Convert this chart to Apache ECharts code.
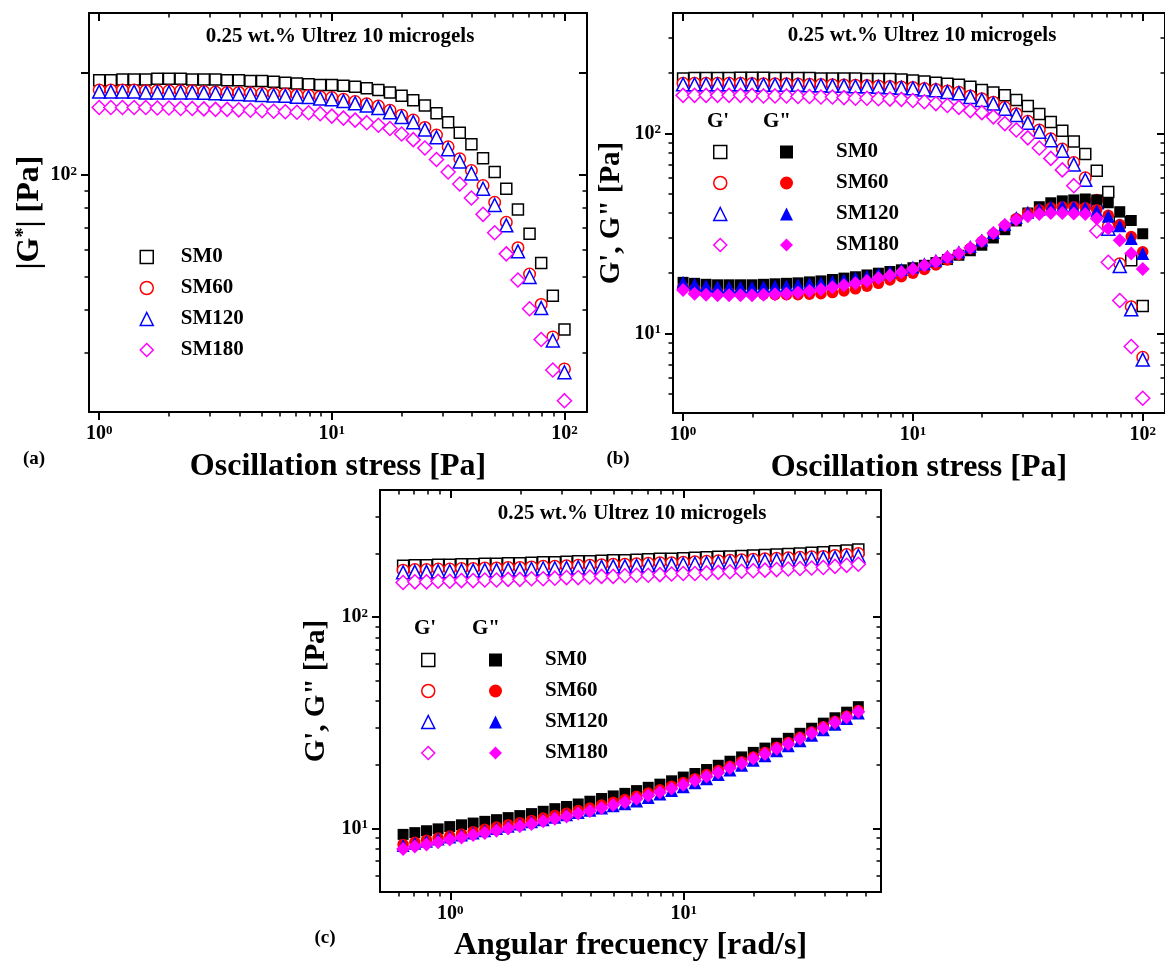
<!DOCTYPE html>
<html>
<head>
<meta charset="utf-8">
<title>Ultrez 10 microgels - rheology</title>
<script src="https://cdn.jsdelivr.net/npm/echarts@6.0.0/dist/echarts.min.js"></script>
<style>
  html, body { margin: 0; padding: 0; background: #fff; }
  #main { width: 1165px; height: 963px; }
</style>
</head>
<body>
<div id="main"></div>
<script>
var FONT = '"Liberation Serif", "Times New Roman", serif';
var BLACK = '#000000', RED = '#ff0000', BLUE = '#0000ff', MAGENTA = '#ff00ff';

// oscillation stress [Pa], panels (a) and (b)
var stress = [1, 1.122, 1.259, 1.413, 1.585, 1.778, 1.995, 2.239, 2.512, 2.818,
  3.162, 3.548, 3.981, 4.467, 5.012, 5.623, 6.31, 7.079, 7.943, 8.913,
  10, 11.22, 12.59, 14.13, 15.85, 17.78, 19.95, 22.39, 25.12, 28.18,
  31.62, 35.48, 39.81, 44.67, 50.12, 56.23, 63.1, 70.79, 79.43, 89.13, 100];

// angular frequency [rad/s], panel (c)
var freq = [0.628, 0.705, 0.791, 0.887, 0.995, 1.117, 1.253, 1.406, 1.578, 1.770,
  1.986, 2.228, 2.500, 2.805, 3.148, 3.532, 3.963, 4.446, 4.988, 5.597,
  6.280, 7.046, 7.906, 8.871, 9.953, 11.17, 12.53, 14.06, 15.78, 17.70,
  19.86, 22.28, 25.00, 28.05, 31.48, 35.32, 39.63, 44.46, 49.88, 55.97];

// (a) |G*| [Pa]
var gStarSM0 = [190, 190, 191, 191, 191, 192, 192, 192, 191, 191, 191, 190, 190, 189, 189, 188, 187, 186, 185, 184,
  184, 183, 182, 180, 178, 175, 171, 166, 160, 152, 143, 133, 123, 112, 102, 91, 79, 67, 55, 44, 35];
var gStarSM60 = [178, 178, 178, 178, 177, 177, 177, 177, 177, 176, 175.5, 175, 175, 174.5, 174, 173.5, 173, 172, 171.5, 170,
  169, 167, 164.5, 162, 159.5, 155, 150, 145, 138, 131, 121, 111.5, 103, 93, 83, 72.5, 61, 51, 41.5, 33.3, 26.8];
var gStarSM120 = [176, 176, 176, 176, 175, 175, 175, 175, 175, 174.5, 174, 173.5, 173, 172.5, 172, 171.5, 171, 170, 169.5, 168,
  167, 165, 162.5, 160, 157.5, 153, 148, 143, 136, 129, 119, 109.5, 101, 91, 81.5, 71, 59.5, 50, 40.5, 32.5, 26.2];
var gStarSM180 = [158, 158, 158, 158, 158, 157.5, 157.5, 157, 157, 156.5, 156, 156, 155.5, 155, 154.5, 154, 153.5, 153, 152.5, 151.5,
  149, 147, 145, 142.5, 140, 137, 132, 127, 120, 111, 102, 94, 85.5, 76.5, 67.5, 58.5, 49, 40.3, 32.7, 26.6, 21.6];

// (b) G' [Pa]
var gpSM0 = [188, 189, 189, 189, 189, 190, 190, 190, 189, 189, 189, 189, 188, 188, 188, 188, 187, 187, 187, 186,
  184, 182, 179, 177, 175, 171, 165, 160, 155, 147, 137, 125, 114, 103, 91, 79, 65, 51, 36, 23.2, 13.7];
var gpSM60 = [178, 178, 178, 178, 178, 178, 177.5, 177, 177, 177, 176.5, 176, 175.5, 175, 174.5, 174, 173.5, 172.5, 171.5, 170.5,
  169.5, 167.5, 166, 163, 160.5, 154, 149, 143, 135, 125.5, 115, 104, 94, 83.5, 71.5, 60, 46.3, 34.2, 22.3, 13.6, 7.6];
var gpSM120 = [176, 176, 176, 176, 176, 176, 176, 175, 175, 175, 175, 174, 174, 173, 173, 172, 172, 171, 170, 169,
  168, 166, 164.5, 161, 159, 152, 147, 141, 133, 123.5, 113, 102, 92.5, 82, 70, 58.6, 45.3, 33.4, 21.7, 13.2, 7.4];
var gpSM180 = [155, 155, 155, 155, 155, 155, 155, 154, 154, 154, 153, 153, 152, 152, 151, 150, 150, 149, 148.5, 148,
  146, 144, 141, 138, 135, 130, 127, 121, 112, 104, 95, 84.5, 75, 65.7, 54.8, 44.8, 32.5, 22.7, 14.6, 8.6, 4.74];

// (b) G'' [Pa]
var gppSM0 = [18.0, 17.8, 17.6, 17.5, 17.5, 17.5, 17.5, 17.6, 17.7, 17.8, 17.9, 18.1, 18.3, 18.6, 18.9, 19.2, 19.6, 20.0, 20.4, 20.8,
  21.3, 21.9, 22.6, 23.4, 24.6, 25.9, 27.6, 30.0, 33.0, 36.5, 40.0, 43.0, 45.0, 46.0, 46.5, 47.0, 46.5, 45.0, 40.6, 36.7, 31.5];
var gppSM60 = [17.0, 16.6, 16.3, 16.1, 16.0, 15.9, 15.8, 15.7, 15.6, 15.6, 15.6, 15.7, 15.8, 16.0, 16.3, 16.7, 17.2, 17.8, 18.5, 19.2,
  20.0, 20.9, 22.0, 23.3, 24.8, 26.6, 28.8, 31.5, 34.5, 37.5, 40.0, 41.5, 42.5, 43.0, 43.0, 42.5, 41.5, 39.0, 35.0, 30.5, 25.6];
var gppSM120 = [18.0, 17.6, 17.3, 17.1, 17.0, 17.0, 17.0, 17.1, 17.2, 17.3, 17.5, 17.7, 17.9, 18.2, 18.5, 18.9, 19.3, 19.8, 20.3, 20.9,
  21.5, 22.3, 23.2, 24.3, 25.6, 27.2, 29.3, 32.0, 35.0, 38.0, 40.3, 41.8, 42.8, 43.2, 43.0, 42.5, 41.0, 38.5, 34.5, 29.8, 25.1];
var gppSM180 = [16.5, 15.8, 15.6, 15.5, 15.5, 15.5, 15.5, 15.6, 15.7, 15.8, 16.0, 16.3, 16.6, 17.0, 17.4, 17.8, 18.3, 18.9, 19.5, 20.2,
  21.0, 21.9, 22.8, 24.0, 25.2, 26.8, 29.0, 31.8, 34.8, 37.0, 38.5, 39.5, 40.0, 40.0, 39.8, 39.5, 37.5, 33.5, 29.2, 25.1, 21.0];

// (c) G' [Pa] vs frequency
var fgpSM0 = [175, 176, 176, 177, 177, 178, 178, 179, 179, 180, 180, 181, 182, 182, 183, 184, 184, 185, 186, 186,
  187, 188, 189, 189, 190, 191, 192, 193, 194, 195, 196, 197, 198, 199, 200, 202, 203, 205, 207, 209];
var fgpSM60 = [167, 168, 168, 169, 169, 170, 170, 171, 171, 172, 172, 173, 174, 174, 175, 176, 176, 177, 178, 178,
  179, 180, 181, 181, 182, 183, 184, 185, 186, 187, 188, 189, 190, 191, 192, 193, 194, 196, 198, 200];
var fgpSM120 = [163, 164, 164, 165, 165, 166, 166, 167, 167, 168, 168, 169, 170, 170, 171, 172, 172, 173, 174, 174,
  175, 176, 177, 177, 178, 179, 180, 181, 182, 183, 184, 185, 186, 187, 188, 189, 190, 191, 193, 195];
var fgpSM180 = [146, 147, 147, 148, 148, 149, 149, 150, 150, 151, 151, 152, 152, 153, 154, 154, 155, 156, 156, 157,
  158, 158, 159, 160, 161, 161, 162, 163, 164, 165, 166, 167, 168, 169, 170, 171, 172, 174, 176, 178];

// (c) G'' [Pa] vs frequency
var fgppSM0 = [9.37, 9.55, 9.75, 9.95, 10.2, 10.4, 10.6, 10.8, 11.0, 11.25, 11.5, 11.75, 12.05, 12.4, 12.7, 13.05, 13.45, 13.85, 14.25, 14.65,
  15.1, 15.65, 16.2, 16.8, 17.5, 18.2, 19.0, 19.9, 20.8, 21.8, 22.9, 24.0, 25.3, 26.7, 28.2, 29.8, 31.5, 33.4, 35.5, 37.7];
var fgppSM60 = [8.4, 8.6, 8.8, 9.0, 9.2, 9.4, 9.65, 9.9, 10.15, 10.4, 10.65, 10.9, 11.2, 11.5, 11.8, 12.15, 12.5, 12.9, 13.3, 13.7,
  14.2, 14.7, 15.25, 15.85, 16.5, 17.2, 18.0, 18.8, 19.7, 20.7, 21.8, 22.9, 24.2, 25.5, 27.0, 28.6, 30.3, 32.1, 34.0, 36.2];
var fgppSM120 = [8.3, 8.5, 8.7, 8.9, 9.1, 9.3, 9.5, 9.75, 10.0, 10.25, 10.5, 10.75, 11.0, 11.3, 11.6, 11.9, 12.2, 12.5, 12.8, 13.1,
  13.5, 14.0, 14.55, 15.1, 15.75, 16.45, 17.2, 18.0, 18.9, 19.9, 21.0, 22.1, 23.3, 24.6, 26.0, 27.6, 29.3, 31.1, 33.1, 35.2];
var fgppSM180 = [8.0, 8.2, 8.4, 8.6, 8.85, 9.05, 9.3, 9.5, 9.75, 10.0, 10.25, 10.5, 10.8, 11.1, 11.4, 11.75, 12.1, 12.5, 12.9, 13.3,
  13.8, 14.3, 14.85, 15.45, 16.1, 16.8, 17.6, 18.4, 19.3, 20.3, 21.4, 22.5, 23.8, 25.1, 26.6, 28.2, 29.9, 31.7, 33.6, 35.7];

// tick values
var xMajorAB = [1, 10, 100];
var xMinorAB = [2, 3, 4, 5, 6, 7, 8, 9, 20, 30, 40, 50, 60, 70, 80, 90];
var xMajorC = [1, 10];
var xMinorC = [0.6, 0.7, 0.8, 0.9, 2, 3, 4, 5, 6, 7, 8, 9, 20, 30, 40, 50, 60];
var yMajorA = [100, 200];
var yLabelA = [100];
var yMinorA = [30, 40, 50, 60, 70, 80, 90];
var yMajorB = [10, 100];
var yMinorB = [5, 6, 7, 8, 9, 20, 30, 40, 50, 60, 70, 80, 90, 200, 300];
var yMajorC = [10, 100];
var yMinorC = [6, 7, 8, 9, 20, 30, 40, 50, 60, 70, 80, 90, 200, 300];

var supStyle = { fontSize: 13, fontWeight: 'bold', fontFamily: FONT, color: BLACK, verticalAlign: 'top', padding: [0, 0, 4, 0] };

function powLabel(v) {
  return '10{s|' + Math.round(Math.log(v) / Math.LN10) + '}';
}

function axisGroup(dim, grid, min, max, major, minor, labels, name, nameGap, nameSize) {
  var isX = dim === 'x';
  var common = { gridIndex: grid, type: 'log', logBase: 10, min: min, max: max, splitLine: { show: false }, silent: true };
  var line = { show: true, onZero: false, lineStyle: { color: BLACK, width: 2 } };
  var main = Object.assign({}, common, {
    position: isX ? 'bottom' : 'left',
    axisLine: line,
    axisTick: { show: true, inside: false, length: 8, customValues: major, lineStyle: { color: BLACK, width: 2 } },
    axisLabel: {
      show: true, customValues: labels, margin: 12, formatter: powLabel,
      color: BLACK, fontFamily: FONT, fontWeight: 'bold', fontSize: 20, rich: { s: supStyle }
    },
    name: name, nameLocation: 'middle', nameGap: nameGap, nameRotate: isX ? 0 : 90,
    nameTextStyle: {
      color: BLACK, fontFamily: FONT, fontWeight: 'bold', fontSize: nameSize,
      rich: { s: { fontSize: Math.round(nameSize * 0.62), fontWeight: 'bold', fontFamily: FONT, color: BLACK, verticalAlign: 'top' } }
    }
  });
  var mainMinor = Object.assign({}, common, {
    position: isX ? 'bottom' : 'left',
    axisLine: { show: false },
    axisTick: { show: true, inside: false, length: 4.5, customValues: minor, lineStyle: { color: BLACK, width: 1.5 } },
    axisLabel: { show: false }
  });
  var mirror = Object.assign({}, common, {
    position: isX ? 'top' : 'right',
    axisLine: line,
    axisTick: { show: true, inside: true, length: 8, customValues: major, lineStyle: { color: BLACK, width: 2 } },
    axisLabel: { show: false }
  });
  var mirrorMinor = Object.assign({}, common, {
    position: isX ? 'top' : 'right',
    axisLine: { show: false },
    axisTick: { show: true, inside: true, length: 4.5, customValues: minor, lineStyle: { color: BLACK, width: 1.5 } },
    axisLabel: { show: false }
  });
  return [main, mainMinor, mirror, mirrorMinor];
}

function scatter(name, axis, xs, ys, symbol, size, color, filled) {
  return {
    type: 'scatter', name: name, xAxisIndex: axis, yAxisIndex: axis,
    data: xs.map(function (x, i) { return [x, ys[i]]; }),
    symbol: symbol, symbolSize: size,
    itemStyle: filled ? { color: color, opacity: 1 } : { color: '#ffffff', borderColor: color, borderWidth: 1.5, opacity: 1 },
    emphasis: { disabled: true }
  };
}

// icon box stays square; the gap to the text is made with text padding
var ICON = 13;
function legendBlock(names, left, top, textPad, showText, open) {
  var lg = {
    orient: 'vertical', left: left, top: top, data: names, padding: 0,
    itemWidth: ICON, itemHeight: ICON, itemGap: 9, selectedMode: false,
    formatter: function (n) { return showText ? n.split(' ')[1] : ' '; },
    textStyle: { color: BLACK, fontFamily: FONT, fontWeight: 'bold', fontSize: 21, lineHeight: 22, padding: [0, 0, 0, textPad] }
  };
  if (open) lg.itemStyle = { borderWidth: 1.5 };
  return lg;
}

function label(text, x, y, size) {
  return {
    type: 'text', x: x, y: y,
    style: { text: text, fill: BLACK, font: 'bold ' + size + 'px ' + FONT, align: 'center', verticalAlign: 'middle' }
  };
}

var SYM = { SM0: ['rect', 11, BLACK], SM60: ['circle', 11.5, RED], SM120: ['triangle', 13, BLUE], SM180: ['diamond', 14, MAGENTA] };

var xAxes = [].concat(
  axisGroup('x', 0, 0.904, 125, xMajorAB, xMinorAB, xMajorAB, 'Oscillation stress [Pa]', 39, 32),
  axisGroup('x', 1, 0.904, 125, xMajorAB, xMinorAB, xMajorAB, 'Oscillation stress [Pa]', 39, 32),
  axisGroup('x', 2, 0.5, 70, xMajorC, xMinorC, xMajorC, 'Angular frecuency [rad/s]', 38, 32)
);
var yAxes = [].concat(
  axisGroup('y', 0, 20, 300, yMajorA, yMinorA, yLabelA, '|G{s|*}| [Pa]', 43, 32),
  axisGroup('y', 1, 4, 400, yMajorB, yMinorB, yMajorB, 'G\', G" [Pa]', 46.5, 29),
  axisGroup('y', 2, 5, 400, yMajorC, yMinorC, yMajorC, 'G\', G" [Pa]', 48.5, 29)
);

function panelSeries(prefix, axis, xs, sets, filled) {
  return ['SM0', 'SM60', 'SM120', 'SM180'].map(function (s, k) {
    return scatter(prefix + ' ' + s, axis, xs, sets[k], SYM[s][0], SYM[s][1], SYM[s][2], filled);
  });
}

var series = [].concat(
  panelSeries('a', 0, stress, [gStarSM0, gStarSM60, gStarSM120, gStarSM180], false),
  panelSeries('b1', 4, stress, [gpSM0, gpSM60, gpSM120, gpSM180], false),
  panelSeries('b2', 4, stress, [gppSM0, gppSM60, gppSM120, gppSM180], true),
  panelSeries('c1', 8, freq, [fgpSM0, fgpSM60, fgpSM120, fgpSM180], false),
  panelSeries('c2', 8, freq, [fgppSM0, fgppSM60, fgppSM120, fgppSM180], true)
);

var samples = ['SM0', 'SM60', 'SM120', 'SM180'];
function names(prefix) { return samples.map(function (s) { return prefix + ' ' + s; }); }

var chart = echarts.init(document.getElementById('main'), null, { renderer: 'canvas' });
chart.setOption({
  backgroundColor: '#ffffff',
  animation: false,
  grid: [
    { left: 89, top: 13, width: 498, height: 399 },
    { left: 673, top: 13, width: 495, height: 400 },
    { left: 380, top: 490, width: 501, height: 403 }
  ],
  xAxis: xAxes,
  yAxis: yAxes,
  legend: [
    legendBlock(names('a'), 139.5, 246, 22.5, true, true),
    legendBlock(names('b1'), 713, 141, 0, false, true),
    legendBlock(names('b2'), 780, 141, 38, true, false),
    legendBlock(names('c1'), 421, 649, 0, false, true),
    legendBlock(names('c2'), 489, 649, 38, true, false)
  ],
  graphic: [
    label('0.25 wt.% Ultrez 10 microgels', 340, 37, 21),
    label('0.25 wt.% Ultrez 10 microgels', 922, 36, 21),
    label('0.25 wt.% Ultrez 10 microgels', 632, 514, 21),
    label('G\'', 718, 122, 21),
    label('G"', 777, 122, 21),
    label('G\'', 425, 629, 21),
    label('G"', 486, 629, 21),
    label('(a)', 34, 459, 19),
    label('(b)', 618, 459, 19),
    label('(c)', 325, 938, 19)
  ],
  series: series
});
</script>
</body>
</html>
